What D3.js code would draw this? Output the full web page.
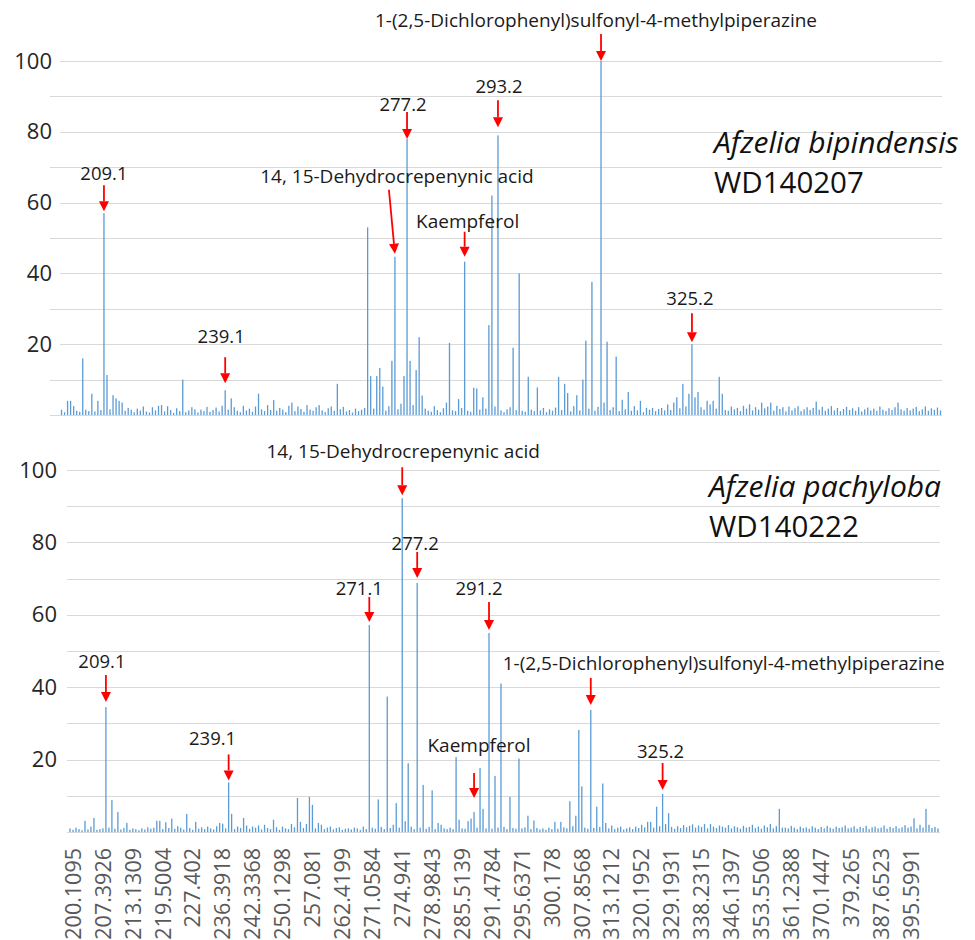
<!DOCTYPE html>
<html>
<head>
<meta charset="utf-8">
<script src="https://cdn.jsdelivr.net/npm/d3@7"></script>
<style>
  html, body { margin: 0; padding: 0; background: #fff; }
  svg { display: block; font-family: "Open Sans", "Noto Sans", sans-serif; }
</style>
</head>
<body>
<svg id="chart" width="975" height="940"></svg>
<script>
// ---------- DATA ----------
// Relative intensity (%) per m/z category, top spectrum: Afzelia bipindensis WD140207
const topIntensity = [
  1.5, 0.8, 4, 4, 2.5, 1.2, 0.9, 16, 1.5, 1.1,
  6, 1, 4, 1.4, 57, 11.3, 1.6, 5.6, 4.7, 4,
  3.5, 1.2, 2, 1.5, 0.8, 1.8, 1.2, 2.4, 1, 0.7,
  2.2, 1.3, 2.6, 2.8, 1, 2.5, 1.4, 0.6, 1.9, 1.1,
  10, 0.8, 1.3, 2.2, 1.6, 0.7, 1.5, 1.1, 2.3, 0.9,
  1.4, 2.1, 1, 2.6, 7, 1.5, 4.7, 2.2, 1.2, 0.8,
  2.6, 1.3, 1.8, 0.9, 2.4, 6, 1.6, 1.1, 2.8, 1.4,
  4.2, 1.2, 2, 1.5, 0.8, 2.6, 3.5, 1.1, 2.4, 1.7,
  0.9, 2.8, 1.5, 1.2, 2.2, 2.8, 1.3, 0.8, 1.9, 2.4,
  1.2, 8.8, 1.6, 2.3, 1, 1.4, 0.7, 1.8, 1.1, 1.5,
  2, 53, 11, 1.8, 11, 13.3, 8, 1.2, 2.5, 15.3,
  44.7, 1.6, 3.2, 11, 78, 15.3, 2.8, 12.7, 22, 5.5,
  1.8, 1.2, 0.9, 2.5, 1.4, 0.8, 1.9, 3.5, 20.4, 1.3,
  1.1, 4.5, 2, 43.3, 1.2, 0.9, 7.7, 7.5, 1.5, 5,
  1.8, 25.4, 62, 2.4, 79, 1.3, 0.8, 1.6, 2.2, 19,
  1.4, 40, 1.2, 0.9, 10.8, 1.5, 1.1, 7.8, 1.3, 2,
  0.8, 1.6, 1.2, 2.1, 10.8, 1.4, 8.8, 6.2, 1, 2.5,
  5.6, 1.3, 10, 21, 1.8, 37.6, 1.2, 2.3, 100, 3.5,
  20.7, 1.4, 2.2, 16.5, 1.1, 4.3, 1.6, 6.5, 1.2, 2.5,
  1.3, 4, 0.8, 2, 1.5, 2, 1.1, 1.7, 2, 1.3,
  3, 1.4, 3.5, 5, 1.9, 8.8, 2.4, 6, 20, 5,
  6.5, 2.2, 1.5, 4, 3, 4, 1.8, 10.8, 6, 1.4,
  1.2, 2.4, 1.6, 2, 1.1, 2.6, 1.8, 3, 1.3, 2.2,
  1.5, 3.5, 1.9, 2.4, 3.5, 1.2, 2.6, 1.7, 2.2, 1,
  2.4, 1.3, 1.9, 2.5, 1.1, 1.6, 2.2, 1.4, 2, 3.8,
  1.5, 2.3, 1.2, 1.8, 2.5, 1.3, 2, 1.1, 1.7, 2.3,
  1.4, 1.9, 1.2, 2.2, 1, 1.6, 2.1, 1.3, 1.8, 1.2,
  2.4, 1.5, 1.1, 1.9, 1.4, 2.2, 3.5, 1.6, 1.2, 2,
  1.3, 1.8, 2.3, 1.1, 1.6, 2.4, 1.2, 1.9, 1.5, 2.1,
  1.3
];

// Relative intensity (%) per m/z category, bottom spectrum: Afzelia pachyloba WD140222
const bottomIntensity = [
  1, 0.6, 1.2, 0.8, 0.5, 3.1, 0.7, 1.5, 3.9, 0.6,
  0.8, 1, 34.5, 1.2, 8.8, 0.9, 5.5, 0.7, 1.1, 2.5,
  0.6, 1, 0.8, 0.5, 1, 0.7, 1.3, 0.9, 1.2, 3.1,
  3.1, 0.8, 2.7, 1.1, 3.7, 0.9, 1.6, 1.2, 0.7, 5,
  1.1, 0.6, 2.8, 0.9, 1.3, 0.8, 1.5, 1, 0.7, 1.6,
  2.5, 2.3, 1, 13.7, 5, 0.8, 1.5, 1.1, 3.9, 1.8,
  0.9, 1.5, 1.2, 1.8, 0.7, 2, 1.1, 0.8, 3.4, 1.3,
  0.6, 1.5, 1, 0.8, 2.2, 1.3, 9.4, 2.8, 1.1, 2.2,
  9.7, 7.5, 1, 2.5, 2, 0.8, 1.2, 1.5, 0.7, 1.1,
  1.3, 0.6, 0.9, 1, 0.7, 1.2, 1, 0.6, 1.5, 0.8,
  57.2, 1.2, 0.9, 9, 1.4, 0.8, 37.4, 1.1, 2, 8,
  1.2, 92.2, 3, 19, 1.5, 0.8, 68.8, 1.2, 13, 0.9,
  1.4, 11.5, 0.8, 2.5, 2, 1, 0.8, 1.2, 0.8, 20.7,
  3.4, 1, 0.9, 3, 3.7, 5.5, 1.2, 17.7, 6.4, 1,
  55, 0.9, 15.5, 1.2, 41, 1.4, 0.8, 9.7, 1.1, 0.9,
  20.3, 1, 1.3, 4.5, 0.8, 3.2, 1.1, 0.7, 1, 0.6,
  1.2, 0.8, 2.8, 0.9, 2.8, 1.3, 1, 8.5, 1.6, 4.5,
  28.2, 12.6, 1.2, 0.9, 33.7, 1.1, 7, 1.4, 13.4, 2.5,
  1, 1.8, 0.8, 1.2, 1.5, 0.7, 1, 1.3, 0.8, 1.5,
  1.1, 2, 1.3, 2.8, 2.8, 1.2, 7, 1.6, 10.5, 2.2,
  5.2, 1.4, 0.9, 1.6, 1.1, 1.9, 1.3, 1.7, 2.1, 1.2,
  1.8, 1.4, 2.2, 1, 2.2, 1.5, 1.1, 1.8, 1.5, 1.2,
  1.9, 1, 1.6, 1.3, 0.9, 1.7, 1.2, 1.4, 2, 1.1,
  1.5, 0.9, 1.8, 1.3, 2.2, 1, 1.6, 6.4, 1.2, 1.2,
  1, 1.7, 1.2, 0.8, 1.5, 1.1, 1.3, 0.9, 1.6, 1.2,
  0.8, 1.4, 1, 1.7, 1.2, 0.9, 1.5, 1.1, 1.3, 1.8,
  1, 1.2, 1.6, 0.9, 1.4, 1.1, 1.7, 0.8, 1.3, 1.5,
  1, 1.2, 1.8, 0.9, 1.4, 1.1, 1.6, 1, 1.3, 1.9,
  1.2, 1.5, 3.8, 1, 2, 1.2, 6.4, 2, 1.1, 1.4,
  1
];

// m/z tick labels (every 10th category)
const mzTickLabels = [
  "200.1095", "207.3926", "213.1309", "219.5004", "227.402", "236.3918",
  "242.3368", "250.1298", "257.081", "262.4199", "271.0584", "274.941",
  "278.9843", "285.5139", "291.4784", "295.6371", "300.178", "307.8568",
  "313.1212", "320.1952", "329.1931", "338.2315", "346.1397", "353.5506",
  "361.2388", "370.1447", "379.265", "387.6523", "395.5991"
];
const tickEvery = 10;
const yTickValues = [20, 40, 60, 80, 100];
const gridValues = [0, 10, 20, 30, 40, 50, 60, 70, 80, 90, 100];

// Annotated peaks: category index, label
const topAnnotations = [
  { idx: 14, label: "209.1" },
  { idx: 54, label: "239.1" },
  { idx: 110, label: "14, 15-Dehydrocrepenynic acid" },
  { idx: 114, label: "277.2" },
  { idx: 133, label: "Kaempferol" },
  { idx: 144, label: "293.2" },
  { idx: 178, label: "1-(2,5-Dichlorophenyl)sulfonyl-4-methylpiperazine" },
  { idx: 208, label: "325.2" }
];
const bottomAnnotations = [
  { idx: 12, label: "209.1" },
  { idx: 53, label: "239.1" },
  { idx: 100, label: "271.1" },
  { idx: 111, label: "14, 15-Dehydrocrepenynic acid" },
  { idx: 116, label: "277.2" },
  { idx: 135, label: "Kaempferol" },
  { idx: 140, label: "291.2" },
  { idx: 174, label: "1-(2,5-Dichlorophenyl)sulfonyl-4-methylpiperazine" },
  { idx: 198, label: "325.2" }
];
const topSpecies = ["Afzelia bipindensis", "WD140207"];
const bottomSpecies = ["Afzelia pachyloba", "WD140222"];

// ---------- LAYOUT (annotation placement, not data) ----------
// [text dx from arrow start, text dy from arrow start, gap above bar, arrow length, arrow start dx]
const topLayout = {
  "209.1": [0, -5, 2, 26, 0],
  "239.1": [-4, -14, 7, 26, 0],
  "277.2": [-4, -1, 0, 27, 0],
  "14, 15-Dehydrocrepenynic acid": [8, -7, 3, 64, -6],
  "Kaempferol": [3, -4, 5, 25, 0],
  "293.2": [1, -7, 8, 27, 0],
  "1-(2,5-Dichlorophenyl)sulfonyl-4-methylpiperazine": [-5, -7, 0, 27, 0],
  "325.2": [-2, -8, 2, 29, 0]
};
const bottomLayout = {
  "209.1": [-4, -7, 5, 27, 0],
  "239.1": [-16, -9, 2, 26, 0],
  "271.1": [-10, -2, 3, 25, 0],
  "14, 15-Dehydrocrepenynic acid": [1, -9, 3, 28, 0],
  "277.2": [-2, -2, 5, 26, 0],
  "Kaempferol": [5, -21, 14, 25, 0],
  "291.2": [-10, -7, 3, 28, 0],
  "1-(2,5-Dichlorophenyl)sulfonyl-4-methylpiperazine": [133, -8, 5, 27, 0],
  "325.2": [-2, -5, 4, 27, 0]
};

// ---------- DRAW ----------
const svg = d3.select("#chart");
const barColor = "#5b9bd5";
const gridColor = "#d9d9d9";
const arrowColor = "#ff0000";

function panel(opts) {
  const g = svg.append("g");
  const x = d3.scaleBand()
    .domain(d3.range(opts.values.length))
    .range([opts.x0, opts.x1])
    .paddingInner(0).paddingOuter(0);
  const y = d3.scaleLinear().domain([0, 100]).range([opts.yBase, opts.yTop]);

  // grid
  g.append("g").selectAll("line").data(gridValues).join("line")
    .attr("x1", d => (opts.gridStartLabeled !== undefined && d % 20 === 0 && d > 0) ? opts.gridStartLabeled : opts.gridStart)
    .attr("x2", opts.gridEnd)
    .attr("y1", d => Math.round(y(d)) + 0.5)
    .attr("y2", d => Math.round(y(d)) + 0.5)
    .attr("stroke", gridColor).attr("stroke-width", 1);

  // y axis labels
  const yAxis = d3.axisLeft(y).tickValues(yTickValues).tickSize(0).tickPadding(0);
  const ya = g.append("g").attr("transform", `translate(${opts.yLabelX},0)`).call(yAxis);
  ya.select(".domain").remove();
  ya.selectAll("text").attr("font-size", 22).attr("fill", "#262626")
    .attr("font-family", "'Open Sans', sans-serif");

  // bars
  const barW = 1.3;
  g.append("g").selectAll("rect").data(opts.values).join("rect")
    .attr("x", (d, i) => x(i) + x.bandwidth() / 2 - barW / 2)
    .attr("width", barW)
    .attr("y", d => y(d))
    .attr("height", d => y(0) - y(d))
    .attr("fill", barColor);

  // annotations
  const ann = g.append("g");
  opts.annotations.forEach(a => {
    const [tdx, tdy, gap, len, sdx] = opts.layout[a.label];
    const cx = x(a.idx) + x.bandwidth() / 2;
    const tipY = y(opts.values[a.idx]) - gap;
    const sx = cx + sdx;
    const sy = tipY - len;
    const headH = 10, headW = 10;
    const dx = cx - sx, dy = tipY - sy;
    const L = Math.hypot(dx, dy);
    const ux = dx / L, uy = dy / L;
    const bx = cx - ux * headH, by = tipY - uy * headH;
    ann.append("line")
      .attr("x1", sx).attr("y1", sy).attr("x2", bx).attr("y2", by)
      .attr("stroke", arrowColor).attr("stroke-width", 1.8);
    ann.append("path")
      .attr("d", `M${cx},${tipY} L${bx - uy * headW / 2},${by + ux * headW / 2} L${bx + uy * headW / 2},${by - ux * headW / 2} Z`)
      .attr("fill", arrowColor);
    const long = a.label.length > 6;
    ann.append("text")
      .attr("x", sx + tdx)
      .attr("y", sy + tdy)
      .attr("text-anchor", "middle")
      .attr("font-size", long ? 19 : 18.5)
      .attr("fill", "#1a1a1a")
      .text(a.label);
  });

  // species label
  g.append("text")
    .attr("x", opts.speciesX).attr("y", opts.speciesY)
    .attr("font-size", 30).attr("font-style", "italic").attr("fill", "#111")
    .text(opts.species[0]);
  g.append("text")
    .attr("x", opts.speciesX).attr("y", opts.speciesY + 40)
    .attr("font-size", 29.5).attr("fill", "#111")
    .text(opts.species[1]);

  return { g, x, y };
}

const topPanel = panel({
  values: topIntensity, x0: 60, x1: 942, yBase: 415, yTop: 61,
  gridStart: 50, gridStartLabeled: 60, gridEnd: 942, yLabelX: 52,
  annotations: topAnnotations, layout: topLayout,
  species: topSpecies, speciesX: 714, speciesY: 153
});

const bottomPanel = panel({
  values: bottomIntensity, x0: 68.5, x1: 68.5 + 291 * 2.993, yBase: 832, yTop: 470,
  gridStart: 67, gridEnd: 940, yLabelX: 57,
  annotations: bottomAnnotations, layout: bottomLayout,
  species: bottomSpecies, speciesX: 709, speciesY: 497
});

// x axis (bottom panel only)
const xAxis = d3.axisBottom(bottomPanel.x)
  .tickValues(d3.range(0, bottomIntensity.length, tickEvery).filter(i => i / tickEvery < mzTickLabels.length))
  .tickFormat(i => mzTickLabels[i / tickEvery])
  .tickSize(0);
const xa = svg.append("g").attr("transform", "translate(3,840)").call(xAxis);
xa.select(".domain").remove();
xa.selectAll("text")
  .attr("transform", "rotate(-90)")
  .attr("x", -8).attr("y", 0).attr("dy", "0.36em")
  .attr("text-anchor", "end")
  .attr("font-size", 21.5)
  .attr("font-family", "'Open Sans', sans-serif")
  .attr("fill", "#595959");
</script>
</body>
</html>
